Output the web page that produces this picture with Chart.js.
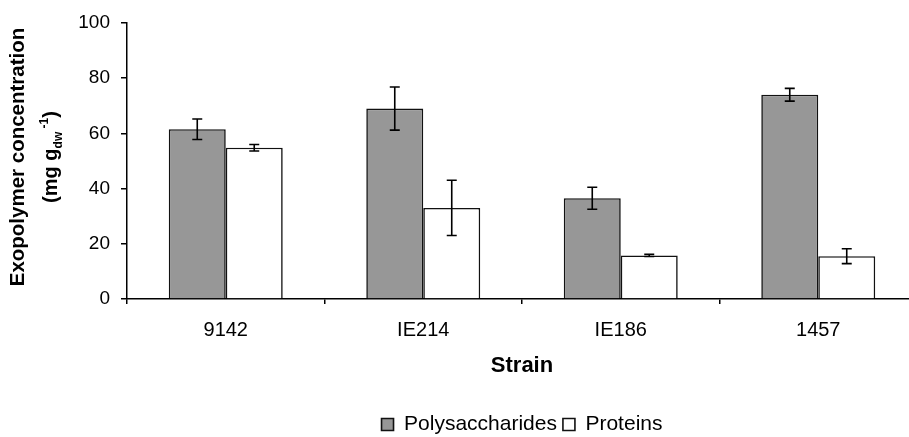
<!DOCTYPE html>
<html>
<head>
<meta charset="utf-8">
<script src="https://cdn.jsdelivr.net/npm/chart.js@4"></script>
<style>
  html, body { margin: 0; padding: 0; background: #fff; overflow: hidden; }
  #wrap { width: 925px; height: 437px; position: relative; }
</style>
</head>
<body>
<div id="wrap"><canvas id="chart"></canvas></div>
<script>
// --- DADOS ---
const strains = ["9142", "IE214", "IE186", "1457"];
const polysaccharides = [61.5, 69, 36.5, 74];
const polysaccharidesErr = [3.7, 7.8, 4, 2.3];
const proteins = [54.8, 33, 15.8, 15.5];
const proteinsErr = [1.2, 10, 0.4, 2.7];
const yTicks = [0, 20, 40, 60, 80, 100];
const seriesNames = ["Polysaccharides", "Proteins"];
const xTitle = "Strain";
const yTitle = "Exopolymer concentration";

const FONT = '"Liberation Sans", Arial, sans-serif';
const PLOT_LEFT = 127;
const PLOT_BOTTOM = 299;
const PAD_LEFT = 50;
const PAD_BOTTOM = -8;
const LEGEND_H = 37; // altura aproximada da legenda do Chart.js

// barras de erro desenhadas por cima das barras
const errorBars = {
    id: "errorBars",
    afterDatasetsDraw(chart) {
        const { ctx, scales: { y } } = chart;
        ctx.save();
        ctx.strokeStyle = "#000";
        ctx.lineWidth = 1.6;
        chart.data.datasets.forEach((ds, i) => {
            chart.getDatasetMeta(i).data.forEach((bar, j) => {
                const v = ds.data[j], e = ds.errors[j];
                const top = y.getPixelForValue(v + e);
                const bot = y.getPixelForValue(v - e);
                ctx.beginPath();
                ctx.moveTo(bar.x, top); ctx.lineTo(bar.x, bot);
                ctx.moveTo(bar.x - 5, top); ctx.lineTo(bar.x + 5, top);
                ctx.moveTo(bar.x - 5, bot); ctx.lineTo(bar.x + 5, bot);
                ctx.stroke();
            });
        });
        ctx.restore();
    }
};

// títulos dos eixos (com subscrito/sobrescrito)
const axisTitles = {
    id: "axisTitles",
    afterDraw(chart) {
        const { ctx, chartArea } = chart;
        ctx.save();
        ctx.fillStyle = "#000";
        ctx.font = `bold 22px ${FONT}`;
        ctx.textAlign = "center";
        ctx.textBaseline = "middle";
        ctx.fillText(xTitle, (chartArea.left + chartArea.right) / 2, 366);

        ctx.translate(18, 157);
        ctx.rotate(-Math.PI / 2);
        ctx.font = `bold 20.5px ${FONT}`;
        ctx.fillText(yTitle, 0, 0);

        // "(mg g_dw^-1)"
        const big = `bold 20px ${FONT}`, small = `bold 12px ${FONT}`;
        const parts = [
            { t: "(mg g", f: big, dy: 0 },
            { t: "dw", f: small, dy: 5 },
            { t: " -1", f: small, dy: -9 },
            { t: ")", f: big, dy: 0 }
        ];
        let total = 0;
        parts.forEach(p => { ctx.font = p.f; p.w = ctx.measureText(p.t).width; total += p.w; });
        let x = -total / 2;
        const base = 39;
        ctx.textAlign = "left";
        ctx.textBaseline = "alphabetic";
        parts.forEach(p => {
            ctx.font = p.f;
            ctx.fillText(p.t, x, base + p.dy);
            x += p.w;
        });
        ctx.restore();
    }
};

new Chart(document.getElementById("chart"), {
    type: "bar",
    data: {
        labels: strains,
        datasets: [
            {
                label: seriesNames[0],
                data: polysaccharides,
                errors: polysaccharidesErr,
                backgroundColor: "#979797",
                borderColor: "#111",
                borderWidth: 1.6
            },
            {
                label: seriesNames[1],
                data: proteins,
                errors: proteinsErr,
                backgroundColor: "#fff",
                borderColor: "#111",
                borderWidth: 1.6
            }
        ]
    },
    options: {
        responsive: true,
        maintainAspectRatio: false,
        animation: false,
        layout: { padding: { left: PAD_LEFT, right: 8, top: 23, bottom: PAD_BOTTOM } },
        datasets: { bar: { categoryPercentage: 0.577, barPercentage: 1 } },
        plugins: {
            tooltip: { enabled: false },
            legend: {
                position: "bottom",
                fullSize: false,
                labels: {
                    color: "#000",
                    font: { family: FONT, size: 21 },
                    boxWidth: 12,
                    boxHeight: 12,
                    padding: 6
                }
            }
        },
        scales: {
            x: {
                afterFit: (s) => { s.height = 437 - PAD_BOTTOM - PLOT_BOTTOM - LEGEND_H; },
                grid: { offset: true, drawOnChartArea: false, tickLength: 5, color: "#000", lineWidth: 1.5 },
                border: { color: "#000", width: 1.5 },
                ticks: { color: "#000", font: { family: FONT, size: 20 }, padding: 14 }
            },
            y: {
                min: 0,
                max: 100,
                afterFit: (s) => { s.width = PLOT_LEFT - PAD_LEFT; },
                afterBuildTicks: (s) => { s.ticks = yTicks.map(v => ({ value: v })); },
                grid: { drawOnChartArea: false, tickLength: 6, color: "#000", lineWidth: 1.5 },
                border: { color: "#000", width: 1.5 },
                ticks: { color: "#000", font: { family: FONT, size: 19 }, padding: 11 }
            }
        }
    },
    plugins: [errorBars, axisTitles]
});
</script>
</body>
</html>
